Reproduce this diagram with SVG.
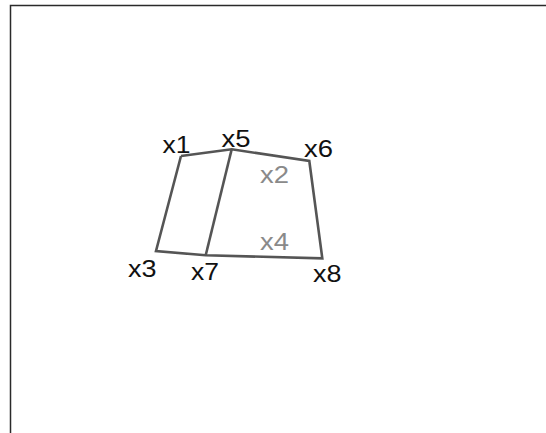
<svg xmlns="http://www.w3.org/2000/svg" width="546" height="433" viewBox="0 0 546 433">
<style>
.frame{stroke:#2a2a2a;stroke-width:1.5;fill:none}
.edge{stroke:#555555;stroke-width:2.6;fill:none;stroke-linejoin:miter}
.lbl{font-family:"Liberation Sans",Arial,sans-serif;font-size:24.5px;fill:#111111}
.lbl2{font-family:"Liberation Sans",Arial,sans-serif;font-size:24.5px;fill:#8a8a8a}
</style>
<rect width="546" height="433" fill="#ffffff"/>
<path class="frame" d="M10.5,433 V5.5 H546"/>
<g id="connectors">
<polyline class="edge" points="181,156 231.7,149.3 309.3,161 322.3,258.3 205.7,255.3 156,251 181,156"/>
<line class="edge" x1="231.7" y1="149.3" x2="205.7" y2="255.3"/>
</g>
<g id="x1"><text class="lbl" x="162.5" y="153" textLength="28" lengthAdjust="spacingAndGlyphs">x1</text></g>
<g id="x5"><text class="lbl" x="221.5" y="146.5" textLength="29" lengthAdjust="spacingAndGlyphs">x5</text></g>
<g id="x6"><text class="lbl" x="304" y="157" textLength="29" lengthAdjust="spacingAndGlyphs">x6</text></g>
<g id="x2"><text class="lbl2" x="260" y="183" textLength="29" lengthAdjust="spacingAndGlyphs">x2</text></g>
<g id="x4"><text class="lbl2" x="260" y="250" textLength="29" lengthAdjust="spacingAndGlyphs">x4</text></g>
<g id="x3"><text class="lbl" x="128" y="276.5" textLength="28.5" lengthAdjust="spacingAndGlyphs">x3</text></g>
<g id="x7"><text class="lbl" x="191" y="280" textLength="28" lengthAdjust="spacingAndGlyphs">x7</text></g>
<g id="x8"><text class="lbl" x="313" y="282" textLength="28.5" lengthAdjust="spacingAndGlyphs">x8</text></g>
</svg>
